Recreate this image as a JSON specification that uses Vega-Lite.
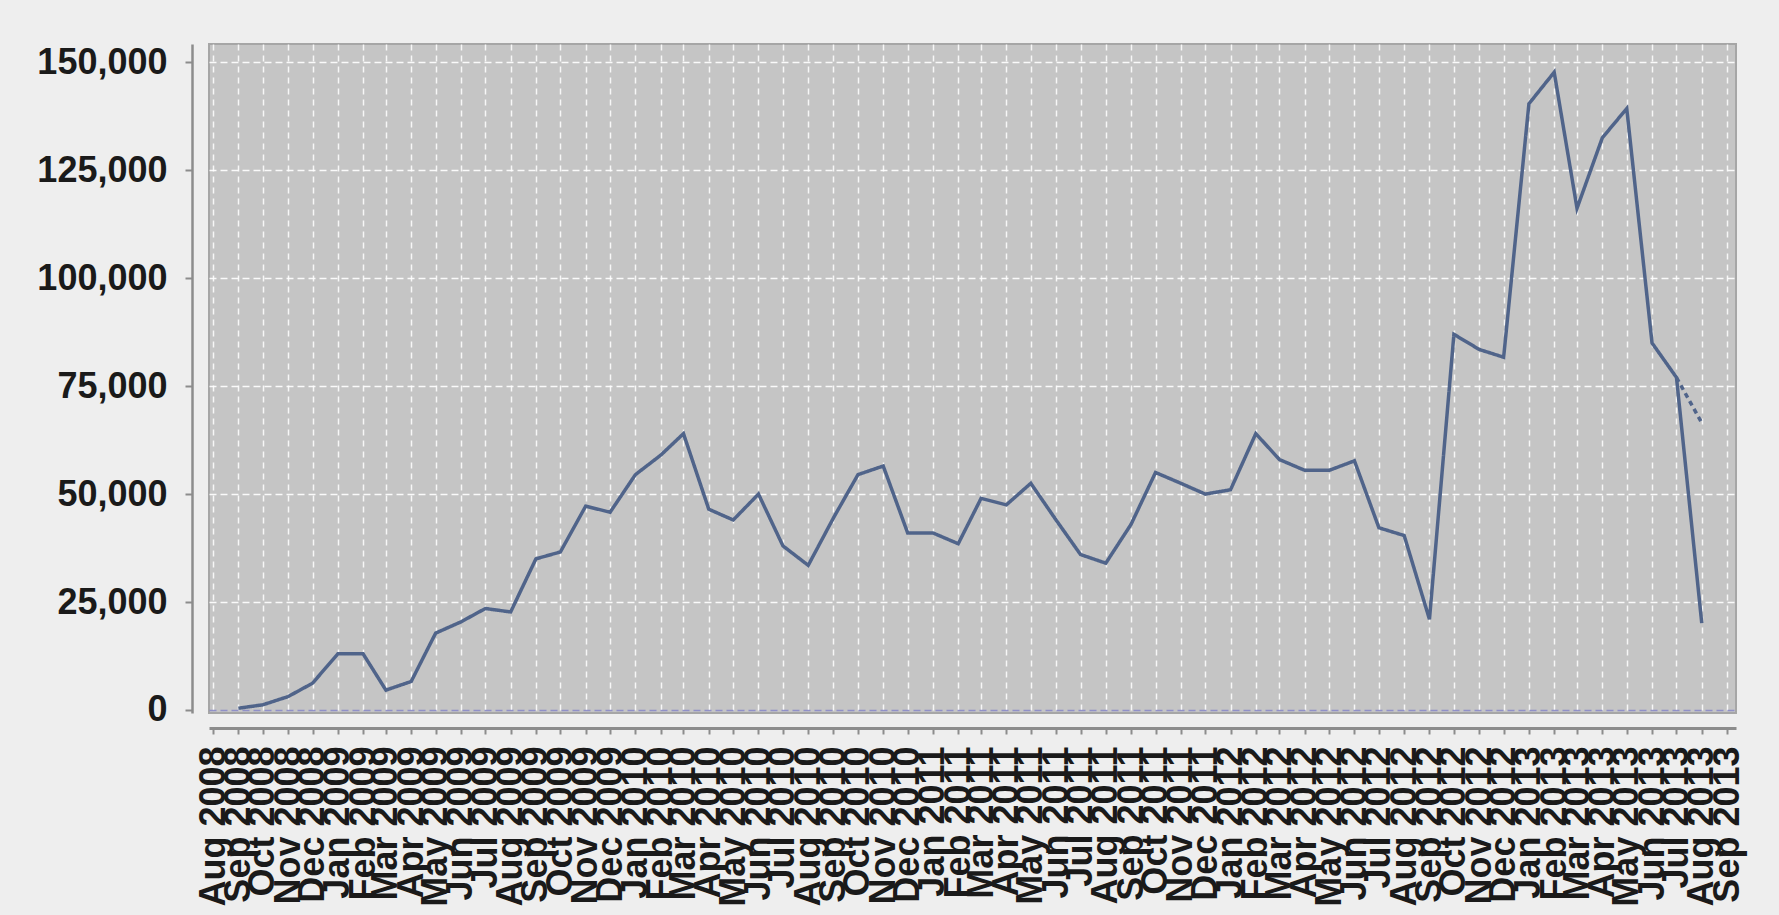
{
  "$schema": "https://vega.github.io/schema/vega-lite/v6.json",
  "autosize": "none",
  "width": 1527,
  "height": 669,
  "padding": {"left": 209, "top": 44, "right": 43, "bottom": 202},
  "background": "#eeeeee",
  "config": {
    "view": {"fill": "#c5c5c5", "stroke": "#a6a6a6", "strokeWidth": 2},
    "axis": {"labelFont": "Liberation Sans", "labelFontWeight": "bold", "labelFontSize": 36, "labelColor": "#1a1a1a", "domainColor": "#8c8c8c", "tickColor": "#8c8c8c"}
  },
  "data": {
    "values": [
      {"month": "2008/09/01", "value": 400, "series": "actual"},
      {"month": "2008/10/01", "value": 1200, "series": "actual"},
      {"month": "2008/11/01", "value": 3100, "series": "actual"},
      {"month": "2008/12/01", "value": 6200, "series": "actual"},
      {"month": "2009/01/01", "value": 13000, "series": "actual"},
      {"month": "2009/02/01", "value": 13000, "series": "actual"},
      {"month": "2009/03/01", "value": 4600, "series": "actual"},
      {"month": "2009/04/01", "value": 6600, "series": "actual"},
      {"month": "2009/05/01", "value": 17800, "series": "actual"},
      {"month": "2009/06/01", "value": 20400, "series": "actual"},
      {"month": "2009/07/01", "value": 23500, "series": "actual"},
      {"month": "2009/08/01", "value": 22700, "series": "actual"},
      {"month": "2009/09/01", "value": 35000, "series": "actual"},
      {"month": "2009/10/01", "value": 36600, "series": "actual"},
      {"month": "2009/11/01", "value": 47200, "series": "actual"},
      {"month": "2009/12/01", "value": 45800, "series": "actual"},
      {"month": "2010/01/01", "value": 54500, "series": "actual"},
      {"month": "2010/02/01", "value": 59000, "series": "actual"},
      {"month": "2010/03/01", "value": 64000, "series": "actual"},
      {"month": "2010/04/01", "value": 46500, "series": "actual"},
      {"month": "2010/05/01", "value": 44000, "series": "actual"},
      {"month": "2010/06/01", "value": 50000, "series": "actual"},
      {"month": "2010/07/01", "value": 38000, "series": "actual"},
      {"month": "2010/08/01", "value": 33500, "series": "actual"},
      {"month": "2010/09/01", "value": 44500, "series": "actual"},
      {"month": "2010/10/01", "value": 54500, "series": "actual"},
      {"month": "2010/11/01", "value": 56500, "series": "actual"},
      {"month": "2010/12/01", "value": 41000, "series": "actual"},
      {"month": "2011/01/01", "value": 41000, "series": "actual"},
      {"month": "2011/02/01", "value": 38500, "series": "actual"},
      {"month": "2011/03/01", "value": 49000, "series": "actual"},
      {"month": "2011/04/01", "value": 47500, "series": "actual"},
      {"month": "2011/05/01", "value": 52500, "series": "actual"},
      {"month": "2011/06/01", "value": 44000, "series": "actual"},
      {"month": "2011/07/01", "value": 36000, "series": "actual"},
      {"month": "2011/08/01", "value": 34000, "series": "actual"},
      {"month": "2011/09/01", "value": 43000, "series": "actual"},
      {"month": "2011/10/01", "value": 55000, "series": "actual"},
      {"month": "2011/11/01", "value": 52500, "series": "actual"},
      {"month": "2011/12/01", "value": 50000, "series": "actual"},
      {"month": "2012/01/01", "value": 51000, "series": "actual"},
      {"month": "2012/02/01", "value": 64000, "series": "actual"},
      {"month": "2012/03/01", "value": 58000, "series": "actual"},
      {"month": "2012/04/01", "value": 55500, "series": "actual"},
      {"month": "2012/05/01", "value": 55500, "series": "actual"},
      {"month": "2012/06/01", "value": 57700, "series": "actual"},
      {"month": "2012/07/01", "value": 42200, "series": "actual"},
      {"month": "2012/08/01", "value": 40400, "series": "actual"},
      {"month": "2012/09/01", "value": 21000, "series": "actual"},
      {"month": "2012/10/01", "value": 87000, "series": "actual"},
      {"month": "2012/11/01", "value": 83500, "series": "actual"},
      {"month": "2012/12/01", "value": 81700, "series": "actual"},
      {"month": "2013/01/01", "value": 140400, "series": "actual"},
      {"month": "2013/02/01", "value": 147700, "series": "actual"},
      {"month": "2013/03/01", "value": 116200, "series": "actual"},
      {"month": "2013/04/01", "value": 132500, "series": "actual"},
      {"month": "2013/05/01", "value": 139300, "series": "actual"},
      {"month": "2013/06/01", "value": 85000, "series": "actual"},
      {"month": "2013/07/01", "value": 77000, "series": "actual"},
      {"month": "2013/08/01", "value": 20100, "series": "actual"},
      {"month": "2013/07/01", "value": 77000, "series": "projection"},
      {"month": "2013/08/01", "value": 66500, "series": "projection"}
    ]
  },
  "mark": {"type": "line", "strokeWidth": 3.5, "color": "#50648a"},
  "encoding": {
    "x": {
      "field": "month",
      "type": "temporal",
      "title": null,
      "scale": {
        "domain": [{"year": 2008, "month": 7, "date": 27}, {"year": 2013, "month": 9, "date": 12}],
        "nice": false
      },
      "axis": {
        "format": "%b %Y",
        "tickCount": {"interval": "month", "step": 1},
        "labelAngle": 270,
        "labelOverlap": false,
        "labelBound": false,
        "labelFlush": false,
        "labelPadding": 12,
        "offset": 15,
        "domainWidth": 3,
        "tickSize": 6,
        "tickWidth": 2,
        "grid": true,
        "gridColor": "#ffffff",
        "gridOpacity": 0.85,
        "gridDash": [6, 5],
        "gridWidth": 1.5
      }
    },
    "y": {
      "field": "value",
      "type": "quantitative",
      "title": null,
      "scale": {"domain": [-700, 154240], "nice": false, "zero": false},
      "axis": {
        "values": [0, 25000, 50000, 75000, 100000, 125000, 150000],
        "format": ",d",
        "offset": 17,
        "domainWidth": 2.5,
        "tickSize": 7,
        "tickWidth": 2,
        "labelPadding": 18,
        "grid": true,
        "gridColor": {"condition": {"test": "datum.value === 0", "value": "#8a8ac8"}, "value": "#ffffff"},
        "gridOpacity": 0.9,
        "gridDash": [7, 4],
        "gridWidth": 1.5
      }
    },
    "strokeDash": {
      "field": "series",
      "type": "nominal",
      "scale": {"domain": ["actual", "projection"], "range": [[1, 0], [5, 4]]},
      "legend": null
    }
  }
}
